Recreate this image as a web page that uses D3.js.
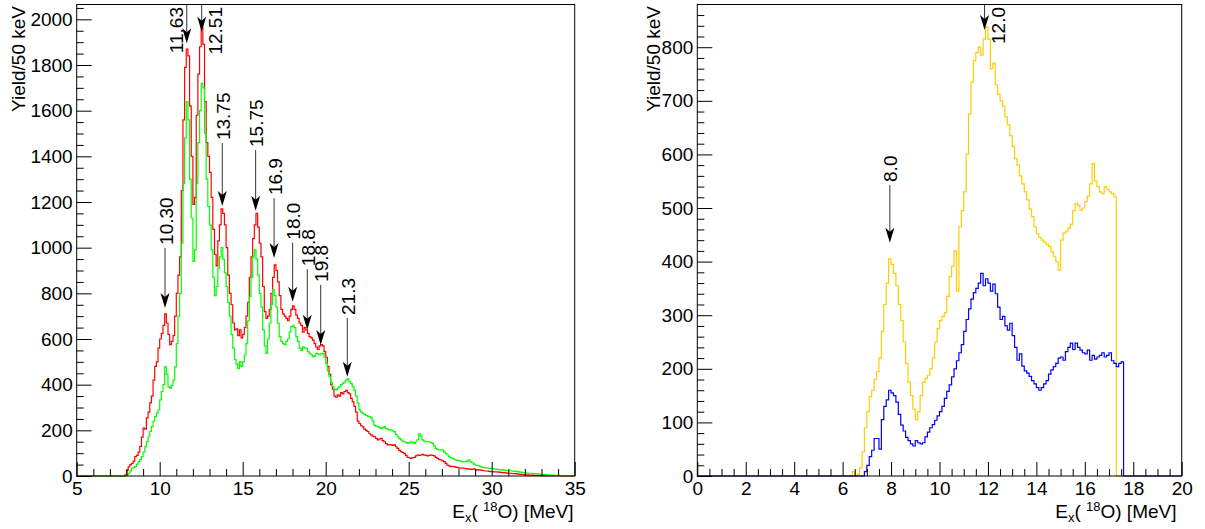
<!DOCTYPE html>
<html><head><meta charset="utf-8">
<script src="https://cdn.jsdelivr.net/npm/d3@7"></script>
<style>
html,body{margin:0;padding:0;background:#fff;}
svg{display:block;font-family:"Liberation Sans",Arial,Helvetica,sans-serif;}
</style></head><body>
<svg id="chart" width="1205" height="529"></svg>
<script>
// ---------- DATA ----------
const binWidth = 0.1; // MeV per plotted bin

// Left panel: spectra starting at 7.8 MeV
const leftStart = 7.8;
const redCounts = [
  0,5,25,40,50,55,65,85,90,105,
  130,170,210,205,255,280,320,350,420,480,
  500,560,600,625,660,710,670,620,575,590,
  615,700,800,880,960,1250,1560,1790,1870,1840,
  1620,1400,1190,1220,1580,1760,1880,1965,1890,1640,
  1460,1400,1330,1220,1080,970,920,1030,1100,1170,
  1150,1100,1000,880,800,750,670,640,645,615,
  640,605,620,650,700,760,870,960,1040,1100,
  1150,1090,1020,960,830,720,690,700,730,800,
  870,925,900,850,790,730,710,700,690,680,
  700,730,745,730,705,690,670,660,630,650,
  640,625,610,605,595,580,565,555,570,575,
  570,545,520,480,445,400,380,350,345,355,
  350,365,360,370,375,365,360,340,325,305,
  280,240,230,220,215,205,200,195,185,180,
  175,172,165,158,162,165,155,150,142,136,
  138,136,134,136,128,121,112,107,103,99,
  90,82,80,77,80,82,88,92,90,92,
  95,92,90,88,90,92,90,88,82,77,
  73,70,66,63,55,48,44,41,42,41,
  39,38,36,34,35,34,32,31,30,29,
  30,31,28,26,27,26,24,23,22,22,
  20,19,19,18,18,18,17,16,15,15,
  14,13,12,12,11,10,10,9,8,7,
  7,6,5,5,4,4,4,3,3,3,
  3,2,2,2,2,2,1,1,1,1,
  1,1,1,1,0,0,0,0,0,0,
  0,0
];
const greenCounts = [
  0,0,5,12,22,34,38,41,52,63,
  72,85,105,128,150,172,195,216,240,260,
  275,289,333,370,400,478,445,390,385,398,
  420,478,580,700,800,1020,1280,1480,1640,1560,
  1300,1130,940,990,1280,1460,1600,1720,1700,1500,
  1300,1180,1100,990,870,790,830,910,960,1000,
  950,890,830,760,700,620,560,510,490,470,
  500,480,500,530,580,680,785,870,960,990,
  950,880,800,740,640,570,537,600,670,750,
  815,790,740,669,610,590,580,575,590,600,
  630,654,660,650,610,590,560,550,566,560,
  559,545,537,530,523,525,537,535,530,535,
  537,520,493,460,435,410,391,380,377,385,
  391,400,406,412,420,425,413,405,391,375,
  350,320,290,280,274,270,265,262,260,255,
  240,223,218,216,212,209,212,216,208,204,
  202,201,198,194,182,172,165,158,153,150,
  146,143,146,150,146,143,150,158,185,175,
  158,153,150,150,150,146,143,132,121,117,
  114,114,114,106,99,92,85,80,77,73,
  70,68,67,65,63,63,63,66,70,62,
  58,52,48,46,44,40,38,37,36,35,
  34,33,32,31,30,29,28,27,27,26,
  25,24,23,23,22,21,20,19,18,17,
  16,15,14,13,12,12,11,10,9,9,
  8,8,7,7,6,5,5,4,4,4,
  3,3,3,2,2,2,2,2,2,2,
  2,2
];

// Right panel
const yellowStart = 6.3;
const yellowCounts = [
  0,8,0,3,15,45,90,120,148,160,
  180,195,220,270,320,360,405,395,378,355,
  320,290,250,210,175,150,125,105,120,150,
  175,182,188,200,220,250,275,290,298,305,
  335,372,391,420,345,465,495,530,600,675,
  735,775,790,800,785,815,838,815,760,770,
  730,712,700,690,670,655,635,615,592,580,
  560,545,530,515,498,484,465,452,445,440,
  436,432,428,418,410,400,384,440,453,456,
  462,470,495,508,505,496,500,512,522,545,
  583,550,540,530,527,540,535,530,527,521
];
const blueStart = 6.8;
const blueCounts = [
  0,8,20,36,48,70,70,50,105,130,
  142,160,155,150,138,115,95,84,72,66,
  60,56,66,62,60,62,73,82,90,96,
  104,112,120,130,145,158,170,185,200,215,
  230,245,270,292,312,330,342,350,360,378,
  355,368,360,345,358,340,315,292,298,280,
  272,285,262,240,216,228,205,196,192,186,
  178,172,165,160,165,172,178,190,198,204,
  210,220,222,216,232,240,248,236,248,240,
  235,230,228,235,216,225,218,222,225,230,
  222,225,230,215,210,204,210,213
];

// Axis ticks
const leftXTicks = [5,10,15,20,25,30,35];
const leftYTicks = [0,200,400,600,800,1000,1200,1400,1600,1800,2000];
const rightXTicks = [0,2,4,6,8,10,12,14,16,18,20];
const rightYTicks = [0,100,200,300,400,500,600,700,800];

// Annotations (energy of arrow, yield of arrow tip, yield of arrow tail (null = frame top), label side)
const leftLabels = ["10.30","11.63","12.51","13.75","15.75","16.9","18.0","18.8","19.8","21.3"];
const leftLabelE = [10.32,11.63,12.53,13.77,15.78,16.89,18.01,18.89,19.70,21.30];
const leftTip    = [736,1895,1946,1183,1162,955,763,640,574,435];
const leftTail   = [999,null,null,1458,1428,1217,1022,906,837,692];
const leftSide   = ["above","left","right","above","above","above","above","above","above","above"];

const rightLabels = ["8.0","12.0"];
const rightLabelE = [7.95,11.86];
const rightTip    = [435,832];
const rightTail   = [543,null];
const rightSide   = ["above","right"];

// ---------- DRAW ----------
const svg = d3.select("#chart");
svg.append("rect").attr("width",1205).attr("height",529).attr("fill","#fff");
const FONT = '"Liberation Sans",Arial,Helvetica,sans-serif';
const FS = 19;

function panel(cfg){
  const x = d3.scaleLinear().domain(cfg.xDomain).range([cfg.left, cfg.right]);
  const y = d3.scaleLinear().domain(cfg.yDomain).range([cfg.bottom, cfg.top]);
  const g = svg.append("g");

  // histograms
  const line = d3.line().x(d=>x(d[0])).y(d=>y(d[1]));
  cfg.series.forEach(s=>{
    const pts = [[cfg.xDomain[0],0],[s.start,0]];
    s.counts.forEach((c,i)=>{
      const e0 = s.start + i*binWidth;
      pts.push([e0,c],[e0+binWidth,c]);
    });
    const end = s.start + s.counts.length*binWidth;
    pts.push([end,0],[cfg.xDomain[1],0]);
    g.append("path").attr("d", line(pts)).attr("fill","none")
      .attr("stroke", s.color).attr("stroke-width",1.2).attr("stroke-linejoin","miter");
  });

  // frame
  g.append("rect").attr("x",cfg.left).attr("y",cfg.top)
    .attr("width",cfg.right-cfg.left).attr("height",cfg.bottom-cfg.top)
    .attr("fill","none").attr("stroke","#000").attr("stroke-width",1);

  // x axis major
  const xa = g.append("g").attr("transform",`translate(0,${cfg.bottom})`)
    .call(d3.axisBottom(x).tickValues(cfg.xTicks).tickSize(-14).tickSizeOuter(0).tickPadding(5.5).tickFormat(d3.format("d")));
  xa.select(".domain").remove();
  xa.attr("font-size",FS).attr("font-family",FONT);
  xa.selectAll("text").attr("fill","#000");
  xa.selectAll("line").attr("stroke","#000");
  // x minor
  const xm = g.append("g").attr("transform",`translate(0,${cfg.bottom})`)
    .call(d3.axisBottom(x).tickValues(cfg.xMinor).tickSize(-7).tickSizeOuter(0).tickFormat(""));
  xm.select(".domain").remove();
  xm.selectAll("line").attr("stroke","#000");

  // y axis major
  const ya = g.append("g").attr("transform",`translate(${cfg.left},0)`)
    .call(d3.axisLeft(y).tickValues(cfg.yTicks).tickSize(-15).tickSizeOuter(0).tickPadding(4).tickFormat(d3.format("d")));
  ya.select(".domain").remove();
  ya.attr("font-size",FS).attr("font-family",FONT);
  ya.selectAll("text").attr("fill","#000");
  ya.selectAll("line").attr("stroke","#000");
  const ym = g.append("g").attr("transform",`translate(${cfg.left},0)`)
    .call(d3.axisLeft(y).tickValues(cfg.yMinor).tickSize(-7).tickSizeOuter(0).tickFormat(""));
  ym.select(".domain").remove();
  ym.selectAll("line").attr("stroke","#000");

  // y title
  g.append("text").attr("transform",`translate(${cfg.yTitleX},${cfg.top+1.5}) rotate(-90)`)
    .attr("text-anchor","end").attr("font-size",FS).attr("font-family",FONT).attr("fill","#000")
    .text("Yield/50 keV");

  // x title
  const xt = g.append("text").attr("x",cfg.xTitleRight).attr("y",517.5)
    .attr("text-anchor","end").attr("font-size",FS).attr("font-family",FONT).attr("fill","#000");
  xt.append("tspan").text("E");
  xt.append("tspan").attr("font-size",13).attr("dy",4).text("x");
  xt.append("tspan").attr("dy",-4).text("( ");
  xt.append("tspan").attr("font-size",13).attr("dy",-7).text("18");
  xt.append("tspan").attr("dy",7).text("O) [MeV]");

  // annotations
  cfg.labels.forEach((lab,i)=>{
    const ax = x(cfg.labelE[i]);
    const tipY = y(cfg.tip[i]);
    const tailY = cfg.tail[i]==null ? cfg.top : y(cfg.tail[i]);
    g.append("line").attr("x1",ax).attr("x2",ax).attr("y1",tailY).attr("y2",tipY-8)
      .attr("stroke","#333").attr("stroke-width",1);
    g.append("path").attr("d","M0,0 L-4.5,-15 L0,-11 L4.5,-15 Z")
      .attr("transform",`translate(${ax},${tipY})`).attr("fill","#000");
    const t = g.append("text").attr("font-size",FS).attr("font-family",FONT).attr("fill","#000")
      .attr("dominant-baseline","central").text(lab);
    const side = cfg.side[i];
    if(side==="above"){
      t.attr("text-anchor","start").attr("transform",`translate(${ax+1},${tailY-3}) rotate(-90)`);
    } else if(side==="left"){
      t.attr("text-anchor","end").attr("transform",`translate(${ax-10.5},${cfg.top+2.5}) rotate(-90)`);
    } else {
      t.attr("text-anchor","end").attr("transform",`translate(${ax+14.3},${cfg.top+2.5}) rotate(-90)`);
    }
  });
}

panel({
  xDomain:[5,35], yDomain:[0,2065],
  left:76.7, right:574.7, top:4.5, bottom:476,
  xTicks:leftXTicks, xMinor:d3.range(6,35,1).filter(v=>v%5!==0),
  yTicks:leftYTicks, yMinor:d3.range(50,2065,50).filter(v=>v%200!==0),
  yTitleX:25, xTitleRight:573.5,
  series:[{start:leftStart,counts:redCounts,color:"#ff0000"},{start:leftStart,counts:greenCounts,color:"#00ff00"}],
  labels:leftLabels, labelE:leftLabelE, tip:leftTip, tail:leftTail, side:leftSide
});
panel({
  xDomain:[0,20], yDomain:[0,879.7],
  left:697.3, right:1181.7, top:4.5, bottom:476,
  xTicks:rightXTicks, xMinor:d3.range(0.5,20,0.5).filter(v=>v%2!==0),
  yTicks:rightYTicks, yMinor:d3.range(20,880,20).filter(v=>v%100!==0),
  yTitleX:660, xTitleRight:1176.5,
  series:[{start:yellowStart,counts:yellowCounts,color:"#ffcc00"},{start:blueStart,counts:blueCounts,color:"#0000ff"}],
  labels:rightLabels, labelE:rightLabelE, tip:rightTip, tail:rightTail, side:rightSide
});
</script>
</body></html>
